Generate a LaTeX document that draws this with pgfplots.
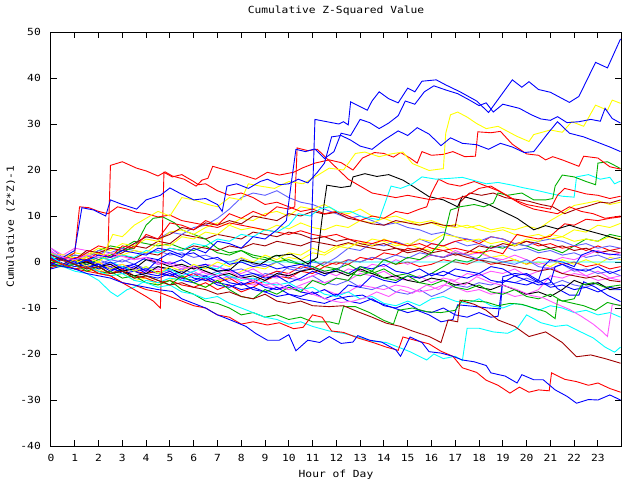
\documentclass[border=0pt]{standalone}
\usepackage{pgfplots}
\pgfplotsset{compat=1.18}
\usepackage{fontspec}
\setmainfont{DejaVu Sans Mono}[FakeStretch=1.15]
\definecolor{cR}{HTML}{FF0000}
\definecolor{cG}{HTML}{00B000}
\definecolor{cB}{HTML}{0000FF}
\definecolor{cM}{HTML}{FF55FF}
\definecolor{cC}{HTML}{00FFFF}
\definecolor{cY}{HTML}{FFFF00}
\definecolor{cD}{HTML}{A00000}
\definecolor{cK}{HTML}{000000}
\definecolor{cS}{HTML}{6060FF}
\newcommand{\pl}[2]{\addplot[#1] coordinates {#2};}
\begin{document}
\begin{tikzpicture}
\path[use as bounding box] (-51pt,-34pt) rectangle (589pt,446pt);
\begin{axis}[
  at={(0,0)}, anchor=south west,
  scale only axis, width=570pt, height=414pt,
  xmin=0, xmax=23.97, ymin=-40, ymax=50,
  xtick={0,1,2,3,4,5,6,7,8,9,10,11,12,13,14,15,16,17,18,19,20,21,22,23},
  xticklabels={0,1,2,3,4,5,6,7,8,9,10,11,12,13,14,15,16,17,18,19,20,21,22,23},
  ytick={-40,-30,-20,-10,0,10,20,30,40,50},
  yticklabels={-40,-30,-20,-10,0,10,20,30,40,50},
  tick align=inside, major tick length=6pt,
  tick style={black, line width=1pt},
  axis line style={black, line width=1pt},
  font=\fontsize{9.8}{11}\selectfont,
  title={Cumulative Z-Squared Value},
  title style={at={(axis description cs:0.5,1)}, anchor=base, yshift=12.7pt, inner sep=0pt},
  xlabel={Hour of Day},
  xlabel style={at={(axis description cs:0.5,0)}, anchor=base, yshift=-31pt, inner sep=0pt},
  ylabel={Cumulative (Z*Z)-1},
  ylabel style={at={(axis description cs:-0.065,0.53)}, anchor=base, inner sep=0pt},
  xticklabel style={anchor=base, yshift=-15pt, inner sep=0pt},
  yticklabel style={anchor=east, xshift=-10pt, inner sep=0pt},
  every axis plot/.append style={line width=0.9pt, mark=none},
]
% middle cluster
\pl{cS}{(0,1)(0.5,-0.5)(1,0)(1.5,-1)(2,-0.5)(2.5,0.5)(3,0)(3.5,1)(4,0.5)(4.5,-0.5)(5,0)(5.5,-1)(6,-1.5)(6.5,-0.5)(7,-1)(7.5,-2)(8,-1.5)(8.5,-2.5)(9,-3)(9.5,-2)(10,-3.5)(10.5,-4)(11,-3)(11.5,-4.5)(12,-5)(12.5,-4)(13,-5.5)(13.5,-6)(14,-5)(14.5,-6.5)(15,-7)(15.5,-6)(16,-7.5)(16.5,-6.5)(17,-5)(17.5,-5.5)(18,-4.5)(18.5,-5)(19,-4)(19.5,-4.5)(20,-3.5)(20.5,-4.5)(21,-5)(21.5,-4)(22,-5)(22.5,-5.5)(23,-4.5)(23.5,-6)(23.95,-6)}
\pl{cM}{(0,2.5)(0.5,0.5)(1,-0.5)(1.5,0.5)(2,-1)(2.5,-0.5)(3,-1.5)(3.5,-1)(4,-2)(4.5,-2.5)(5,-1.5)(5.5,-2.5)(6,-3)(6.5,-2)(7,-3.5)(7.5,-4)(8,-3)(8.5,-4.5)(9,-5)(9.5,-6)(10,-5.5)(10.5,-6.5)(11,-7)(11.5,-6)(12,-7)(12.5,-6.5)(13,-5)(13.5,-5.5)(14,-6)(14.5,-5)(15,-5.5)(15.5,-6.5)(16,-6)(16.5,-5)(17,-5.5)(17.5,-6.5)(18,-6)(18.5,-7)(19,-6.5)(19.5,-7.5)(20,-7)(20.5,-6)(21,-3)(21.5,-3.5)(22,-2.5)(22.5,-3)(23,-4)(23.5,-3.5)(23.95,-4)}
\pl{cM}{(0,-1)(0.5,-0.5)(1,0.5)(1.5,-0.5)(2,0)(2.5,-1)(3,-0.5)(3.5,-1.5)(4,-2)(4.5,-1.5)(5,-2.5)(5.5,-3)(6,-2)(6.5,-3.5)(7,-4)(7.5,-3)(8,-4.5)(8.5,-5)(9,-4)(9.5,-5.5)(10,-6)(10.5,-5)(11,-4)(11.5,-4.5)(12,-3.5)(12.5,-4)(13,-2.5)(13.5,-3)(14,-2)(14.5,-3.5)(15,-4)(15.5,-3)(16,-4.5)(16.5,-3.5)(17,-4)(17.5,-2.5)(18,-3)(18.5,-2)(19,-2.5)(19.5,-1.5)(20,-3)(20.5,-2)(21,-1)(21.5,-2.5)(22,-1.5)(22.5,-3)(23,-2)(23.5,-3.5)(23.95,-3)}
\pl{cR}{(0,1.5)(0.5,0.5)(1,1)(1.5,0)(2,-0.5)(2.5,-1.5)(3,-1)(3.5,-2)(4,-2.5)(4.5,-2)(5,-3)(5.5,-3.5)(6,-2.5)(6.5,-4)(7,-4.5)(7.5,-3.5)(8,-5)(8.5,-4.5)(9,-3)(9.5,-2)(10,-2.5)(10.5,-1)(11,-1.5)(11.5,0)(12,-0.5)(12.5,0.5)(13,0)(13.5,1)(14,0.5)(14.5,-0.5)(15,0)(15.5,-1)(16,-0.5)(16.5,0.5)(17,0)(17.5,-0.5)(18,0.5)(18.5,-0.5)(19,0)(19.5,0.5)(20,-0.5)(20.5,1)(21,0.5)(21.5,-0.5)(22,0)(22.5,-1)(23,-0.5)(23.5,-1.5)(23.95,-1)}
\pl{cY}{(0,-1)(0.5,-1)(1,-0.5)(1.5,-2)(2,-1.5)(2.5,-3)(3,-2.5)(3.5,-4)(4,-3.5)(4.5,-5)(5,-4)(5.5,-3)(6,-4.5)(6.5,-5.5)(7,-4)(7.5,-3.5)(8,-2)(8.5,-1)(9,-1.5)(9.5,0)(10,1)(10.5,0.5)(11,2)(11.5,1.5)(12,3)(12.5,4)(13,3.5)(13.5,5)(14,4.5)(14.5,3.5)(15,4)(15.5,3)(16,2.5)(16.5,3.5)(17,2)(17.5,1.5)(18,2.5)(18.5,1)(19,1.5)(19.5,0.5)(20,-0.5)(20.5,0)(21,-1)(21.5,0.5)(22,-0.5)(22.5,0.5)(23,-0.5)(23.5,1)(23.95,0.5)}
\pl{cG}{(0,0.5)(0.5,0.5)(1,1.5)(1.5,1)(2,2.5)(2.5,3.5)(3,3)(3.5,4.5)(4,4)(4.5,3.5)(5,4)(5.5,3)(6,2.5)(6.5,3.5)(7,2)(7.5,1.5)(8,2.5)(8.5,1)(9,0.5)(9.5,1.5)(10,0)(10.5,-0.5)(11,0.5)(11.5,-1)(12,-1.5)(12.5,-0.5)(13,-2)(13.5,-2.5)(14,-1.5)(14.5,-3)(15,-2.5)(15.5,-3.5)(16,-2.5)(16.5,-1)(17,0.5)(17.5,0)(18,1)(18.5,3.5)(19,3)(19.5,4)(20,3.5)(20.5,2.5)(21,3)(21.5,2)(22,3.5)(22.5,5)(23,4.5)(23.5,6)(23.95,5.5)}
\pl{cS}{(0,3)(0.5,1)(1,0.5)(1.5,1.5)(2,0.5)(2.5,-0.5)(3,0.5)(3.5,-0.5)(4,-1.5)(4.5,-1)(5,-2)(5.5,-1.5)(6,-2.5)(6.5,-3)(7,-2)(7.5,-3.5)(8,-3)(8.5,-4)(9,-2.5)(9.5,-3)(10,-1)(10.5,-1.5)(11,0)(11.5,-0.5)(12,1)(12.5,3)(13,2.5)(13.5,4)(14,3.5)(14.5,4.5)(15,3.5)(15.5,5)(16,4)(16.5,3.5)(17,4.5)(17.5,3.5)(18,4)(18.5,3)(19,3.5)(19.5,2.5)(20,3)(20.5,2)(21,2.5)(21.5,1.5)(22,2)(22.5,1)(23,1.5)(23.5,0.5)(23.95,1)}
\pl{cR}{(0,-0.5)(0.5,-0.5)(1,-1.5)(1.5,-1)(2,-2)(2.5,-2.5)(3,-1.5)(3.5,-3)(4,-3.5)(4.5,-4.5)(5,-4)(5.5,-5)(6,-5.5)(6.5,-4.5)(7,-6)(7.5,-5)(8,-6.5)(8.5,-5.5)(9,-4)(9.5,-3)(10,-3.5)(10.5,-2)(11,-2.5)(11.5,-1)(12,0)(12.5,-0.5)(13,1)(13.5,0.5)(14,2)(14.5,1.5)(15,3)(15.5,2.5)(16,4)(16.5,3.5)(17,4.5)(17.5,5)(18,4)(18.5,5.5)(19,5)(19.5,4)(20,4.5)(20.5,3.5)(21,4)(21.5,3)(22,3.5)(22.5,2.5)(23,3.5)(23.5,2.5)(23.95,3)}
\pl{cD}{(0,1)(0.5,0.3)(1,-0.5)(1.5,0.5)(2,1.5)(2.5,1)(3,2)(3.5,3.5)(4,3)(4.5,4.5)(5,4)(5.5,6)(6,5.5)(6.5,5)(7,6)(7.5,5.5)(8,5)(8.5,6.5)(9,6)(9.5,5.5)(10,6.5)(10.5,6)(11,5)(11.5,5.5)(12,4.5)(12.5,5)(13,4)(13.5,3.5)(14,4)(14.5,3)(15,2.5)(15.5,3)(16,2)(16.5,2.5)(17,1.5)(17.5,2)(18,3.5)(18.5,3)(19,4)(19.5,3.5)(20,4.5)(20.5,4)(21,3)(21.5,3.5)(22,2.5)(22.5,3)(23,2)(23.5,2.5)(23.95,2)}
\pl{cM}{(0,3)(0.5,1.5)(1,3)(1.5,2.5)(2,2)(2.5,1)(3,1.5)(3.5,0.5)(4,1)(4.5,-0.5)(5,0)(5.5,-1)(6,-1.5)(6.5,-0.5)(7,-1)(7.5,-2)(8,-2.5)(8.5,-1.5)(9,-3)(9.5,-3.5)(10,-2.5)(10.5,-4)(11,-3)(11.5,-2)(12,-3)(12.5,-1.5)(13,-2)(13.5,-0.5)(14,-1)(14.5,0.5)(15,-0.5)(15.5,0.5)(16,1.5)(16.5,1)(17,2.5)(17.5,1.5)(18,2)(18.5,1)(19,0.5)(19.5,1.5)(20,0.5)(20.5,-0.5)(21,0)(21.5,1)(22,0.5)(22.5,1.5)(23,2.5)(23.5,1.5)(23.95,2)}
\pl{cD}{(0,-0.8)(0.5,-0.5)(1,0.5)(1.5,0)(2,1)(2.5,0.5)(3,1.5)(3.5,0.8)(4,2)(4.5,1.5)(5,3)(5.5,2.5)(6,3.5)(6.5,3)(7,2.5)(7.5,3.5)(8,3)(8.5,4)(9,3.5)(9.5,4.5)(10,4)(10.5,3.5)(11,4.5)(11.5,4)(12,3.5)(12.5,4.2)(13,3.5)(13.5,3)(14,2.5)(14.5,3)(15,2)(15.5,2.5)(16,1.5)(16.5,1)(17,1.8)(17.5,1)(18,0.5)(18.5,0)(19,-0.5)(19.5,-1)(20,-1.5)(20.5,-2)(21,-1.5)(21.5,-2.5)(22,-3)(22.5,-3.5)(23,-3)(23.5,-4)(23.95,-4.3)}
\pl{cS}{(0,2)(0.5,0.8)(1,1.5)(1.5,1)(2,2.5)(2.5,2)(3,3)(3.5,2.5)(4,1.8)(4.5,2.5)(5,1.5)(5.5,2)(6,1)(6.5,1.5)(7,0.5)(7.5,0)(8,0.8)(8.5,-0.5)(9,-1)(9.5,0)(10,-1.5)(10.5,-2)(11,-1)(11.5,-2.5)(12,-2)(12.5,0.5)(13,0)(13.5,1)(14,0.5)(14.5,1.5)(15,0.8)(15.5,2)(16,1.5)(16.5,1)(17,2)(17.5,1.5)(18,0.5)(18.5,1)(19,0)(19.5,-0.5)(20,0.5)(20.5,-1)(21,-1.5)(21.5,-0.5)(22,-2)(22.5,-1.5)(23,-2.5)(23.5,-2)(23.95,-3)}
\pl{cB}{(0,1.5)(0.5,0.5)(1,-0.5)(1.5,0.5)(2,-0.5)(2.5,-1.5)(3,-1)(3.5,-2)(4,-1.5)(4.5,-2.5)(5,-3)(5.5,-2)(6,-3.5)(6.5,-4)(7,-3)(7.5,-4.5)(8,-5)(8.5,-4)(9,-5.5)(9.5,-6)(10,-5)(10.5,-6.5)(11,-7)(11.5,-6)(12,-7.5)(12.5,-5)(13,-5.5)(13.5,-3)(14,-4)(14.5,-4.5)(15,-3)(15.5,-3.5)(16,-2.5)(16.5,-3)(17,-1.5)(17.5,-2)(18,-2.5)(18.5,-1)(19,-1.5)(19.5,-3)(20,-2.5)(20.5,-4)(20.7,-1)(21,0.5)(21.5,0)(22,-1)(22.3,1.5)(22.8,2.5)(23.3,1.8)(23.95,1.5)}
\pl{cB}{(0,-1.5)(0.5,-0.8)(1,0.3)(1.5,-1.2)(2,-0.5)(2.5,-2)(3,-1)(3.5,-0.5)(4,1)(4.5,0.5)(5,-0.5)(5.5,0.5)(6,-1)(6.5,-0.5)(7,-2)(7.5,-1.5)(8,-3)(8.5,-2.5)(9,-3.5)(9.5,-3)(10,-4.5)(10.5,-3.5)(11,-2)(11.5,-3)(12,-1.5)(12.5,-2.5)(13,-1)(13.5,-1.5)(14,-0.5)(14.5,-2)(15,-2.5)(15.5,-1.5)(16,-3)(16.5,-2)(17,-3)(17.5,-3.5)(18,-2.5)(18.5,-4)(19,-4.5)(19.5,-3)(20,-4)(20.5,-5)(21,-4.5)(21.2,-1)(21.5,-0.5)(22,-1.5)(22.5,-2)(23,-1)(23.5,-2.5)(23.95,-1.7)}
\pl{cB}{(0,0.8)(0.5,-0.3)(1,-1)(1.5,-0.5)(2,-1.5)(2.5,-1)(3,-2.5)(3.5,-2)(4,-3)(4.5,-3.5)(5,-2.5)(5.5,-4)(6,-4.5)(6.5,-3.5)(7,-5)(7.5,-5.5)(8,-4.5)(8.5,-6)(9,-6.5)(9.5,-5.5)(10,-7)(10.5,-7.5)(11,-6.5)(11.5,-8)(12,-7)(12.5,-8.5)(13,-9)(13.5,-8)(14,-9.5)(14.5,-10)(15,-9)(15.5,-10.5)(16,-11)(16.5,-10)(17,-11.5)(17.5,-12)(18,-11)(18.5,-12)(18.8,-11.8)(19,-4)(19.5,-4.5)(20,-5)(20.5,-4)(21,-5.5)(21.5,-5)(22,-6)(22.5,-5.5)(23,-6.5)(23.5,-5.5)(23.95,-6)}
\pl{cB}{(0,2)(0.5,0.5)(1,0)(1.5,-1)(2,-0.5)(2.5,-1.5)(3,-2)(3.5,-1)(4,-2.5)(4.5,-3)(5,-2)(5.5,-3.5)(6,-4)(6.5,-3)(7,-4.5)(7.5,-5)(8,-6)(8.5,-5.5)(9,-6.5)(9.5,-7.5)(10,-7)(10.5,-8)(11,-8.5)(11.5,-9)(12,-8)(12.5,-7.5)(13.1,-7.2)(13.6,-8.5)(14.3,-9.8)(15,-11)(15.4,-10.5)(15.9,-11.5)(16.4,-13)(16.9,-12.5)(17.1,-9.3)(17.7,-9.6)(18.4,-10)(18.9,-10.2)(19,-3.2)(19.5,-2.5)(20,-2.8)(20.5,-4.4)(20.9,-3.5)(21.3,-5.8)(21.8,-7.2)(22.2,-7.2)(22.4,-4.3)(22.9,-5.5)(23.4,-7.2)(23.95,-8.6)}
\pl{cC}{(0,-1)(0.5,-1)(1,-2)(1.5,-2.5)(2,-4)(2.5,-6.5)(2.8,-7.5)(3.2,-6)(3.5,-5.5)(4,-4)(4.5,-4.5)(5,-3.5)(5.5,-4)(6,-3)(6.5,-3.5)(7,-2.5)(7.5,-3)(8,-4)(8.5,-3.5)(9,-4.5)(9.5,-5)(10,-4.5)(10.5,-6)(11,-5.5)(11.5,-7)(12,-7.5)(12.5,-6.5)(13,-8)(13.5,-7.5)(14,-9)(14.5,-9.5)(15,-8.5)(15.5,-9.5)(16,-8)(16.5,-7.5)(17,-8.5)(17.5,-9)(18,-8)(18.5,-9.5)(19,-10)(19.5,-9)(20,-9.5)(20.5,-10.5)(21,-9.5)(21.5,-10)(22,-11)(22.5,-10.5)(23,-11.5)(23.5,-11)(23.95,-12)}
\pl{cK}{(0,-0.5)(0.5,-1)(1,-0.5)(1.5,-1.5)(2,-1)(2.5,-2.5)(3,-2)(3.5,-3)(4,-2.5)(4.5,-1)(5,-1.5)(5.5,-2.5)(6,-1)(6.5,-2)(7,-3)(7.5,-2.5)(8,-3.5)(8.5,-3)(9,-4)(9.5,-2.5)(10,-3)(10.5,-2)(11,-1.5)(11.5,-2.5)(12,-2)(12.5,-3)(13,-1.5)(13.5,-2.5)(14,-3.5)(14.5,-3)(15,-4)(15.5,-4.5)(16,-3.5)(16.5,-4)(17,-5)(17.5,-4.5)(18,-5.5)(18.5,-6)(19,-5)(19.5,-6)(20,-7)(20.5,-6.5)(21,-7.5)(21.5,-6)(22,-4)(22.5,-5)(23,-4.5)(23.5,-6)(23.95,-5.5)}
\pl{cG}{(0,1.2)(0.5,-0.5)(1,0.5)(1.5,-0.5)(2,0.5)(2.5,1.5)(3,2.5)(3.5,3)(4,8)(4.3,9.5)(4.7,9.8)(5.2,8.5)(5.5,7)(6,6)(6.5,5)(7,3)(7.5,2)(8,2.5)(8.5,1.5)(9,1)(9.5,0)(10,0.5)(10.5,-0.5)(11,-1)(11.5,-2)(12,-1.5)(12.5,-2.5)(13,-3)(13.5,-2)(14,-3.5)(14.5,-4)(15,-3)(15.5,-4.5)(16,-5)(16.5,-4)(17,-5.5)(17.5,-6)(18,-5)(18.5,-6.5)(19,-7)(19.5,-6)(20,-7.5)(20.5,-8)(21,-7)(21.5,-8.5)(22,-8)(22.3,-5)(22.8,-4.5)(23.3,-5.5)(23.95,-5)}
\pl{cC}{(0,0.5)(0.5,-1)(1,-0.5)(1.5,-1.5)(2,-1)(2.5,0)(3,-1)(3.5,-2)(4,-1)(4.5,-2.5)(5,-1.5)(5.5,-3)(6,-2)(6.5,-1)(7,-1.5)(7.4,0)(23.97,0)}
% upper group
\pl{cS}{(0,1.5)(0.5,1)(1,0.5)(1.5,2)(2,1.5)(2.5,3)(3,2.5)(3.5,4)(4,5.5)(4.5,5)(5,6.5)(5.5,6)(6,7.5)(6.5,8)(7,9.5)(7.5,11.5)(8,14)(8.5,15)(9,14.5)(9.5,15.5)(10,14)(10.5,13)(11,12.5)(11.5,11.5)(12,10.5)(12.5,9.5)(13,10)(13.5,9)(14,8)(14.5,8.5)(15,7.5)(15.5,7)(16,6)(16.5,6.5)(17,5.5)(17.5,5)(18,4.5)(18.5,5.5)(19,5)(19.5,4)(20,3.5)(20.5,4.5)(21,5)(21.5,4.5)(22,3.5)(22.5,4)(23,3)(23.5,3.5)(23.95,3)}
\pl{cY}{(0,0.5)(0.5,1)(1,2)(1.5,1.5)(2,3)(2.5,2.5)(3,4)(3.5,3.5)(4,5)(4.5,4.5)(5,6.5)(5.5,7)(6,6)(6.5,7.5)(7,8.5)(7.5,8)(8,9.5)(8.5,9)(9,10.5)(9.5,11)(10,10)(10.5,12)(11,11.5)(11.5,12.5)(12,11)(12.5,10.5)(13,11.5)(13.5,10)(14,9.5)(14.5,10)(15,9)(15.5,8.5)(16,9)(16.5,8)(17,7.5)(17.5,8)(18,7)(18.5,6.5)(19,7)(19.5,6)(20,5.5)(20.5,6)(21,5)(21.5,5.5)(22,4.5)(22.5,5)(23,4.5)(23.5,5.5)(23.95,5)}
\pl{cY}{(0,-0.5)(0.5,-0.5)(1,0.5)(1.5,-1)(2,0)(2.5,-1.5)(3,-0.5)(3.5,-2)(4,-1)(4.5,-2.5)(5,-1)(5.5,-2)(6,-0.5)(6.5,-1.5)(7,0)(7.5,-1)(8,1)(8.5,0)(9,1.5)(9.5,0.5)(10,2)(10.5,1.5)(11,3)(11.5,2)(12,3.5)(12.5,3)(13,4.5)(13.5,3.5)(14,5)(14.5,4)(15,3.5)(15.5,5)(16,4.5)(16.5,6)(17,5.5)(17.5,4.5)(18,5)(18.5,4)(19,4.5)(19.5,3.5)(20,5)(20.5,4.5)(21,6)(21.5,5.5)(22,7)(22.5,6.5)(23,8)(23.5,7.5)(23.95,8.4)}
\pl{cY}{(0,1)(0.5,0.5)(1,-0.5)(1.5,1)(2,0)(2.5,2)(3,1.5)(3.5,2.5)(4,2)(4.5,4)(5,3.5)(5.5,5.5)(6,5)(6.5,6.5)(7,6)(7.5,8)(8,7)(8.5,7.5)(9,6.8)(9.5,8)(10,7.2)(10.5,8.5)(11,7.5)(11.5,7)(12,8)(12.5,7.5)(13,9)(13.5,8.5)(14,9.5)(14.5,8.5)(15,9)(15.5,8)(16,8.5)(16.5,7.5)(17,8.2)(17.5,7.4)(18,8)(18.5,7)(19,7.5)(19.5,7)(20,7.8)(20.5,7.2)(21,9)(21.5,10.5)(22,12.3)(22.5,12.8)(23,13.3)(23.5,12.5)(23.95,13)}
\pl{cR}{(0,0.3)(0.5,0.5)(1,2)(1.2,12)(1.6,11.8)(2,11)(2.4,10.5)(2.8,12)(3.2,11.5)(3.6,10.8)(4,10.5)(4.5,9.8)(5,10.2)(5.5,9)(6,8.5)(6.5,8)(7,7.5)(7.5,8.5)(8,8)(8.5,7.5)(9,7)(9.5,6.5)(10,6)(10.5,6.8)(11,6)(11.5,5.5)(12,6)(12.5,5)(13,4.5)(13.5,4)(14,4.8)(14.5,4.2)(15,3.5)(15.5,4)(16,3)(16.5,2.5)(17,3)(17.5,2.4)(18,2)(18.5,2.5)(19,1.8)(19.3,4)(19.6,6)(20,5.5)(20.5,5)(21,5.6)(21.3,7)(21.6,8.3)(22,8)(22.5,9.3)(23,9)(23.5,9.5)(23.95,9.8)}
\pl{cD}{(0,-0.3)(0.5,1)(1,0.5)(1.5,2.5)(2,2)(2.5,3)(3,2.5)(3.5,4)(4,5.5)(4.5,5)(5,6)(5.5,7.5)(6,7)(6.5,8.5)(7,8)(7.5,9)(8,8.3)(8.5,10)(9,9.5)(9.5,9)(10,10.5)(10.5,10)(11,11)(11.5,10.4)(12,10.8)(12.5,9.5)(13,9)(13.5,8.3)(14,8)(14.5,9)(15,8.5)(15.5,8)(16,8.6)(16.5,8)(17,7.8)(17.2,13)(17.6,15)(18.1,14.5)(18.6,15)(19.1,14)(19.6,13.6)(20.1,13.2)(20.6,12.5)(21.1,12)(21.6,10.5)(22.1,11.5)(22.6,12.2)(23.1,13)(23.5,12.8)(23.95,13.5)}
\pl{cK}{(0,0.8)(0.5,0.5)(1,-0.5)(1.5,0)(2,-1)(2.5,-0.5)(3,-2)(3.5,-1.5)(4,0.5)(4.5,0)(5,-1)(5.5,-0.5)(6,-1.5)(6.5,-1)(7,-2)(7.5,-1.8)(8,0.4)(8.8,-0.5)(9.4,1.3)(10.1,1.7)(10.8,-0.4)(11.2,1)(11.4,9.5)(11.6,16.7)(12.2,16.2)(12.6,16.5)(12.7,18.5)(13.2,19.2)(13.7,18.6)(14.2,19)(14.8,17.8)(15.3,16.2)(15.9,14.2)(16.5,13.5)(17.1,12)(17.3,14.3)(17.8,13.6)(18.4,12.5)(19,11)(19.6,9.5)(20.3,7)(20.8,7.9)(21.3,7.2)(21.8,8)(22.3,7.2)(22.8,6.5)(23.3,5.8)(23.95,4.8)}
\pl{cR}{(0,-1.2)(0.5,-0.5)(1,-1.5)(1.5,-2)(2,-2.5)(2.5,-3)(3,-4.5)(3.5,-6)(4,-7.5)(4.3,-8.5)(4.6,-10)(4.75,19.5)(5.1,18.5)(5.5,19)(6,17.5)(6.2,16.8)(6.5,17)(7,15.5)(7.5,14.5)(8,15)(8.5,14)(9,12.5)(9.5,13)(10,12)(10.5,11)(11,11.5)(11.5,10.5)(12,11)(12.5,10)(13,9)(13.5,10)(14,9.5)(14.5,11)(15,10.5)(15.5,11.5)(15.8,12)(16,15)(16.3,18)(16.7,17)(17.2,16.5)(17.8,17.5)(18.3,16.5)(18.8,15.5)(19.3,14)(19.8,12.5)(20.3,11.5)(20.8,11)(21.3,10.5)(21.8,12)(22.3,11)(22.8,10.5)(23.3,9.5)(23.95,10)}
\pl{cC}{(0,2)(0.5,0.5)(1,-0.5)(1.5,0.5)(2,1)(2.5,0.5)(3,1.5)(3.5,1)(4,2.5)(4.5,2)(5,3)(5.5,2.5)(6,4)(6.5,3.5)(7,5)(7.5,4.5)(8,6)(8.5,5.5)(9,7)(9.5,6.5)(10,8)(10.4,10.5)(10.9,10)(11.3,11.5)(11.7,12)(12.1,10.8)(12.6,11)(13.1,9.8)(13.8,9.2)(14.3,16.5)(14.7,16)(15.2,17)(15.6,18.5)(16.2,18)(16.8,18.2)(17.3,18.4)(17.8,17.7)(18.3,17)(18.8,17.3)(19.4,16.7)(19.9,16.1)(20.4,15.6)(20.9,15)(21.5,14.3)(22,14.1)(22.1,18.5)(22.6,19)(23.1,18)(23.5,18.4)(23.7,17)(23.95,17.6)}
\pl{cG}{(0,-0.5)(0.5,-1)(1,-0.5)(1.5,-2)(2,-1)(2.5,-2.5)(3,-2)(3.5,-3.5)(4,-3)(4.5,-4)(5,-5)(5.5,-3)(6,-4.5)(6.5,-5.5)(7,-4)(7.5,-6)(8,-7.5)(8.5,-8)(9,-6)(9.5,-7)(10,-5.5)(10.5,-6.5)(11,-4)(11.5,-5)(12,-3.5)(12.5,-4)(13,-1)(13.5,-2)(14,0.5)(14.5,-0.5)(15,1)(15.5,0.5)(16,2)(16.5,5)(16.8,11.3)(17.2,12)(17.8,12.5)(18.2,12)(18.6,12.8)(18.8,15)(19.2,14.5)(19.8,15)(20.3,13.5)(20.8,13.5)(21.1,13.8)(21.2,16.5)(21.5,18.9)(22,18.5)(22.5,17.5)(22.9,16.8)(23,21.5)(23.4,21.8)(23.7,21)(23.95,20.3)}
\pl{cR}{(0,0.8)(0.5,-0.5)(1,1)(1.5,0.5)(2,2)(2.5,1)(3,3.5)(3.5,3)(4,6)(4.5,5)(5,8.5)(5.5,8)(6,7)(6.5,9)(7,8)(7.5,10.5)(8,9.5)(8.5,11)(9,10)(9.5,12)(10,11.5)(10.25,12)(10.35,24.8)(10.8,24.2)(11.2,24.5)(11.5,23)(12,20.5)(12.5,18)(13,16.5)(13.5,15)(14,14.5)(14.5,14)(15,14.5)(15.5,14)(16,13.5)(16.5,14)(17,13.5)(17.5,14.5)(18,16)(18.5,16.5)(19,15)(19.5,13.5)(20,12.5)(20.5,12)(21,11.5)(21.3,14.5)(21.6,16)(22,15.5)(22.5,14.8)(23,14.5)(23.5,13.8)(23.95,14.3)}
\pl{cR}{(0,-0.3)(0.5,1)(1,0.4)(1.5,2)(2,3.5)(2.4,3)(2.5,21)(3,21.8)(3.6,20.4)(4,19.8)(4.5,18.7)(4.8,19.6)(5.1,18.7)(5.6,18)(6.1,16.5)(6.35,17.8)(6.6,18.2)(6.8,20.8)(7.4,19.9)(8,19)(8.6,18)(9.1,19.5)(9.6,18.9)(10.2,19.5)(10.6,20.5)(11.1,21.5)(11.7,22.2)(12.2,21.6)(12.7,20)(13.1,22.6)(13.6,23.8)(14,23.6)(14.4,22.8)(14.7,23.8)(15.1,22.6)(15.4,21.5)(15.6,24)(16,23.2)(16.5,23.4)(16.9,24)(17.4,22.9)(17.85,23)(17.95,28.3)(18.5,28.1)(18.9,28.4)(19.4,25.6)(20,23.5)(20.5,23.2)(20.8,22.2)(21.1,22.9)(21.5,22.2)(22.2,20.8)(22.4,23)(23,22.6)(23.5,20.7)(23.95,20.2)}
\pl{cY}{(0,1.8)(0.6,1.5)(1.2,0.5)(1.8,2)(2.2,1.5)(2.6,6)(3,5.5)(3.5,8)(4,9.5)(4.5,11)(5,10)(5.5,14)(6,13.5)(6.6,12.5)(7,12)(7.5,14)(8,13.5)(8.3,17)(8.8,16.5)(9.4,16)(10,17.5)(10.6,17)(11.1,18.5)(11.7,20.4)(12.3,20)(12.8,23.6)(13.2,23.9)(13.8,22.9)(14.3,23.5)(14.8,23.9)(15.2,21.4)(15.9,19.9)(16.5,20.3)(16.6,28)(16.8,32)(17.1,32.6)(17.5,31.5)(17.9,30.1)(18.3,29)(18.8,29.5)(19.6,27.3)(20.1,26.2)(20.3,27.7)(21,28.7)(21.5,28.2)(21.9,30.5)(22.4,29.5)(22.9,34.1)(23.4,33)(23.6,35.2)(23.95,34.5)}
\pl{cB}{(0,0.5)(0.5,1)(1,2.5)(1.3,11.8)(1.8,11.3)(2.3,10)(2.5,13.5)(3,12.5)(3.6,11.5)(4,13.5)(4.6,14.5)(5,16.1)(5.4,15)(6,13.5)(6.5,13.8)(7,12.5)(7.2,11)(7.4,16.5)(7.8,17)(8.3,16)(8.8,17.5)(9.1,18)(9.6,16.8)(10,17)(10.4,18)(10.8,17.2)(11.2,19.5)(11.5,21.5)(11.8,27.2)(12.2,27.5)(12.6,26.5)(13,25.2)(13.5,24.5)(14,26.5)(14.6,28.5)(15,27.5)(15.4,29.2)(15.9,27.8)(16.4,25.3)(16.8,27)(17.3,25.8)(17.9,25.5)(18.4,24.5)(18.9,25.8)(19.4,25)(19.9,23.8)(20.3,24)(20.6,26)(20.9,28)(21.3,30.5)(21.8,28)(22.4,27.2)(23,26)(23.5,25)(23.95,24)}
\pl{cB}{(0,-0.7)(0.5,0.8)(1,-0.5)(1.5,0.5)(2,-1)(2.5,0)(3,-1.5)(3.5,-0.5)(4,-2)(4.5,0.5)(5,2)(5.5,1)(6,3)(6.5,2)(7,4.5)(7.5,4)(8,3)(8.5,5.5)(9,5)(9.5,7)(9.9,9)(10.1,17)(10.3,24.5)(10.7,24)(11.1,24.6)(11.5,22.5)(11.9,24)(12.2,28)(12.6,27.5)(13,31)(13.4,30.3)(13.8,29)(14.2,30.2)(14.6,31.8)(14.9,35)(15.3,34.3)(15.7,37)(16.1,38.3)(16.6,37.4)(17.1,36.6)(17.6,35.2)(18,34)(18.3,34.6)(18.6,32.6)(19,34.3)(19.7,33.4)(20.2,32)(20.6,31.1)(21,30.8)(21.3,31.6)(21.7,30.3)(22.2,30.5)(22.7,31)(23.1,30.6)(23.3,33.4)(23.6,31.2)(23.95,30.2)}
\pl{cB}{(0,1)(0.5,-0.5)(1,0.8)(1.5,0.3)(2,1.5)(2.5,1)(3,2.5)(3.5,2)(4,1.5)(4.5,3)(5,2.5)(5.5,1.5)(6,2)(6.5,0.5)(7,1)(7.5,-0.5)(8,0)(8.5,-1)(9,-0.5)(9.5,-1.5)(10,-1)(10.5,-0.5)(10.9,-1)(11.1,31)(11.6,30.5)(12.1,30)(12.3,30.5)(12.5,29.8)(12.6,34.8)(13.3,33)(13.5,35)(13.8,37)(14.2,35.5)(14.6,34.6)(15,37.8)(15.3,37)(15.6,39.3)(16.2,39.6)(16.6,38.5)(17.2,37)(17.9,35)(18.4,32.5)(19.4,39.6)(19.8,38)(20.1,39.2)(20.5,37.5)(21,36.9)(21.8,34.7)(22.2,36)(22.9,43.4)(23.4,42.2)(23.95,48.5)}
% lower group
\pl{cM}{(0,2.2)(0.5,1)(1,0.5)(1.5,1.5)(2,1)(2.5,2)(3,1.2)(3.5,0.5)(4,1)(4.5,0)(5,-0.5)(5.5,-1.5)(6,-1)(6.5,-2.5)(7,-3)(7.5,-2)(8,-3.5)(8.5,-4)(9,-5)(9.5,-4.5)(10,-6)(10.5,-5.5)(11,-7)(11.7,-8.3)(12.2,-8.8)(12.7,-8.5)(13.2,-7.8)(13.7,-6.5)(14.2,-7.5)(14.7,-6)(15.2,-6.8)(15.8,-5)(16.3,-6)(16.8,-4)(17.4,-5)(17.9,-3.2)(18.5,-4.5)(19.1,-5.2)(19.6,-6)(20.2,-7.3)(20.7,-7.8)(21.2,-9)(21.8,-10.3)(22.3,-11.8)(22.8,-13.5)(23.2,-15.2)(23.4,-16.2)(23.6,-9.3)(23.95,-9.3)}
\pl{cG}{(0,0.3)(0.5,-0.5)(1,-1.5)(1.5,-1)(2,-2.5)(2.5,-2)(3,-3.5)(3.5,-3)(4,-4.5)(4.5,-5)(5,-4)(5.5,-6)(6,-7)(6.5,-8.5)(7,-9)(7.5,-10)(8,-11.5)(8.5,-11)(9,-12)(9.5,-11.5)(10,-12.5)(10.5,-12)(11,-13)(11.7,-13)(12.1,-13.5)(12.3,-9.7)(12.8,-9.7)(13.4,-11)(14,-12.7)(14.4,-13.5)(14.6,-10.5)(15.2,-10)(15.8,-10.8)(16.4,-11)(17,-10.5)(17.3,-8.3)(17.8,-8.5)(18.3,-8.7)(18.8,-9.5)(19.3,-9)(19.8,-9.2)(20.3,-10)(20.8,-10.8)(21.2,-12.3)(21.3,-8.2)(21.8,-8.8)(22.4,-9.5)(22.9,-10.5)(23.4,-8.8)(23.95,-9.5)}
\pl{cC}{(0,1.2)(0.5,-0.5)(1,-1.5)(1.5,-1)(2,-2)(2.5,-3)(3,-2.5)(3.5,-4)(4,-4.5)(4.5,-5.5)(5,-5)(5.5,-6.5)(6,-7)(6.5,-8)(7,-7.5)(7.5,-9)(8,-10)(8.5,-11)(9,-12)(9.5,-12.5)(10,-13.5)(10.5,-13)(11,-14)(11.7,-15)(12.3,-15.5)(12.9,-16.3)(13.5,-17.2)(14.1,-17.5)(14.6,-18.5)(15.1,-19.5)(15.8,-21.3)(16.1,-20)(16.5,-21)(17,-20.5)(17.3,-21.4)(17.5,-14.4)(18,-14.4)(18.6,-15.2)(19.2,-15.5)(19.6,-14.5)(20,-11.5)(20.6,-13.2)(21.2,-14)(21.7,-13.7)(22.2,-15)(22.8,-16.5)(23.3,-18.5)(23.7,-19.6)(23.95,-18.5)}
\pl{cD}{(0,1.6)(0.5,0.5)(1,-0.5)(1.5,-1.5)(2,-1)(2.5,-2.5)(3,-2)(3.5,-3.5)(4,-3)(4.5,-4)(5,-5)(5.5,-4.5)(6,-5.5)(6.5,-6)(7,-7)(7.5,-6.5)(8,-7.5)(8.5,-8)(9,-7)(9.5,-8.5)(10,-9)(10.5,-8.5)(11,-9.5)(11.7,-9.7)(12.3,-9.5)(12.9,-10.8)(13.5,-12)(14.1,-13.3)(14.7,-14)(15.2,-15)(15.9,-16.2)(16.4,-17.5)(16.7,-12.6)(17.1,-13)(17.2,-8.3)(17.8,-9.2)(18.3,-10.5)(18.8,-12.6)(19.5,-14)(20.1,-16.2)(20.8,-15.2)(21.5,-17.5)(22.1,-20.6)(22.7,-20.2)(23.3,-21)(23.95,-22)}
\pl{cR}{(0,0.6)(0.5,-0.5)(1,-1.5)(1.5,-1)(2,-2.5)(2.5,-3)(3,-4.5)(3.5,-5)(4,-6)(4.5,-6.5)(5,-7.5)(5.5,-8.5)(6,-9.5)(6.5,-10)(7,-11.5)(7.5,-12)(8,-13.5)(8.5,-13)(9.1,-13.7)(9.6,-13.2)(10.2,-14.5)(10.6,-14.2)(11,-11.5)(11.4,-12)(11.8,-15)(12.3,-15.3)(12.9,-16.5)(13.6,-17.6)(14.1,-18.5)(14.6,-19.2)(14.8,-16.3)(15.3,-17)(15.9,-17.8)(16.4,-19.4)(16.9,-20.5)(17.3,-23)(17.9,-24)(18.3,-25.7)(18.8,-26.8)(19.3,-28.5)(19.7,-27.2)(20.1,-28.3)(20.5,-27.8)(20.95,-28)(21.05,-24.1)(21.6,-25.5)(22.1,-26)(22.6,-26.8)(23,-26.3)(23.5,-27.5)(23.95,-28.3)}
\pl{cB}{(0,-0.2)(0.5,-1)(1,-1.5)(1.5,-2.5)(2,-3)(2.5,-3.5)(3,-4.5)(3.5,-5)(4,-5.5)(4.5,-6)(5.1,-6.4)(5.5,-8)(6,-9)(6.5,-10)(7,-11.5)(7.5,-12.5)(8.2,-14)(8.6,-15.5)(9.1,-17)(9.6,-17)(10,-15.8)(10.3,-19.3)(10.8,-17)(11.3,-17.5)(11.7,-16.2)(12.2,-17.7)(12.7,-17.4)(12.9,-16)(13.4,-17)(13.9,-17.4)(14.5,-19.1)(14.7,-20.5)(15.1,-16.3)(15.6,-17.5)(15.9,-19.5)(16.4,-19.8)(16.9,-20.5)(17.3,-21.3)(17.8,-21.7)(18.3,-22.5)(18.5,-24.1)(19.1,-24.8)(19.6,-26.3)(19.8,-24.5)(20.3,-25.6)(20.7,-25.6)(21.2,-27.8)(21.7,-29.2)(22.1,-30.7)(22.6,-29.9)(23,-30)(23.5,-28.9)(23.95,-30)}
\end{axis}
\end{tikzpicture}
\end{document}
